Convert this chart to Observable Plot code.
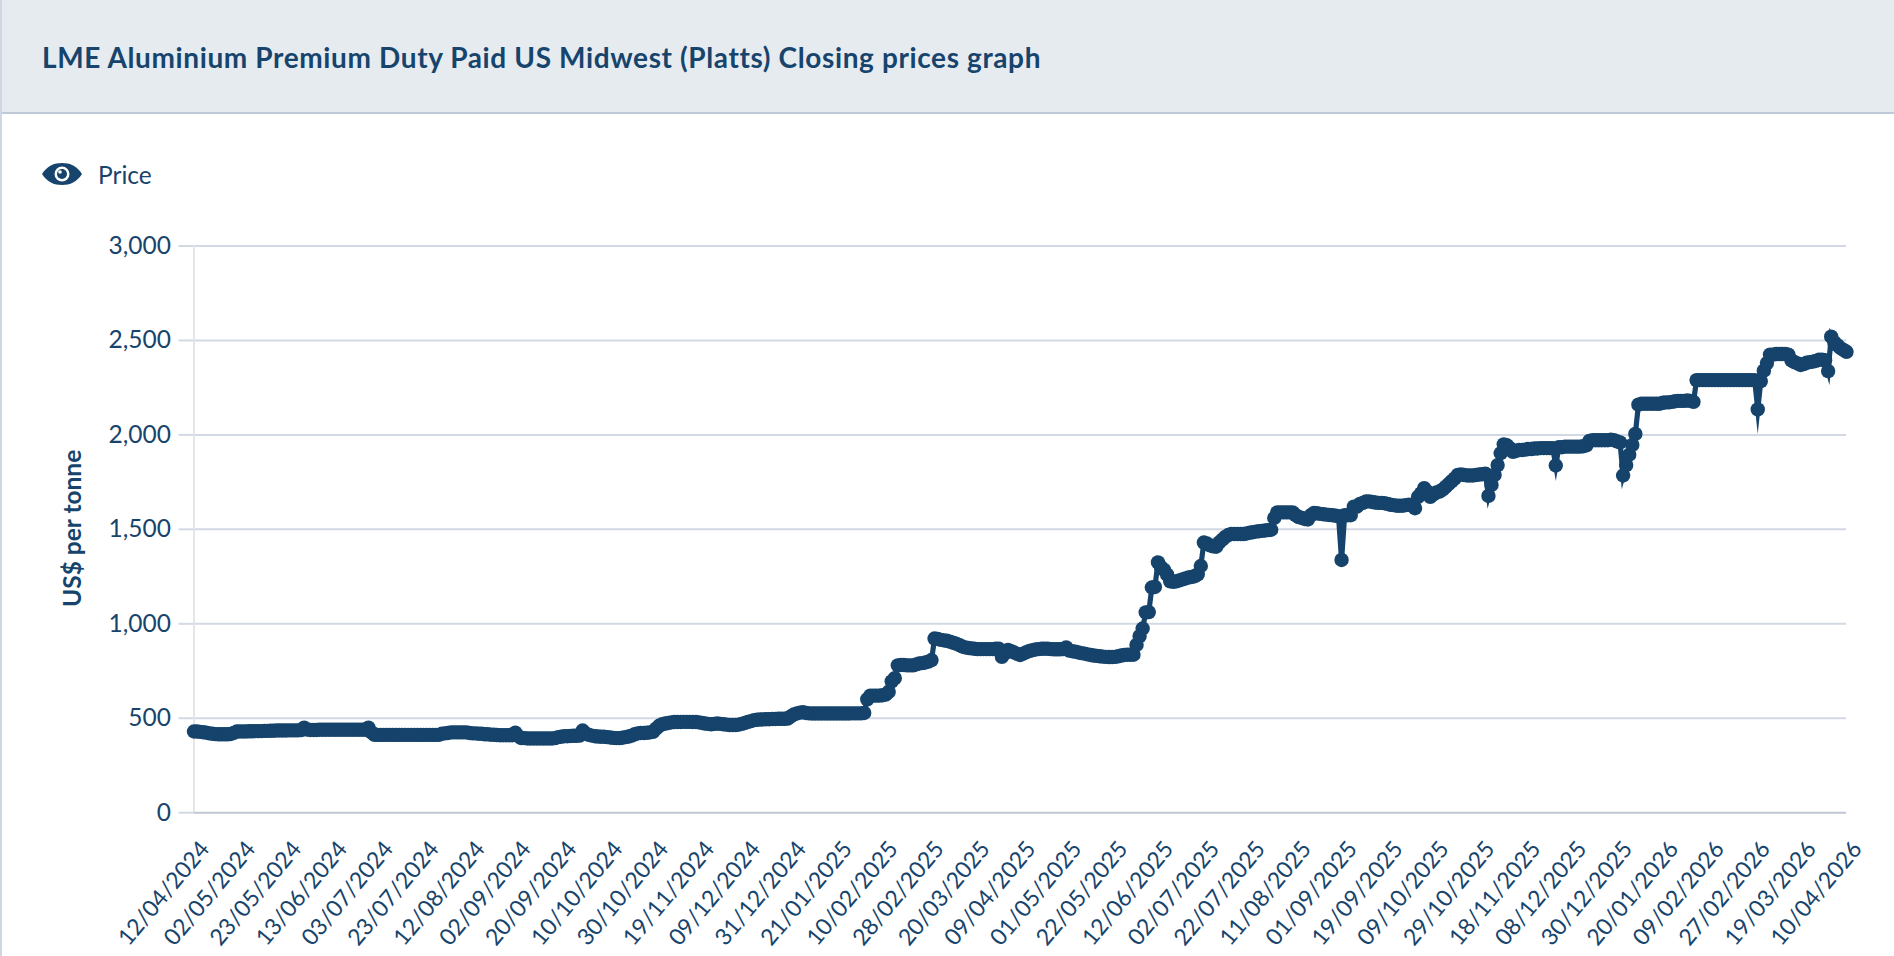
<!DOCTYPE html>
<html>
<head>
<meta charset="utf-8">
<script src="https://cdn.jsdelivr.net/npm/d3@7"></script>
<script src="https://cdn.jsdelivr.net/npm/@observablehq/plot@0.6"></script>
<style>
  html, body { margin: 0; padding: 0; background: #fff; overflow: hidden; }
  body { width: 1894px; height: 956px; position: relative; font-family: Lato, sans-serif; color: #17446c; }
  #edge { position: absolute; left: 0; top: 0; width: 2px; height: 956px; background: #cfd7e3; z-index: 2; }
  #head { height: 112px; background: #e6ebf0; border-bottom: 2px solid #bfcad8; box-sizing: content-box; }
  #head h1 { margin: 0; padding: 0 0 0 42px; font-size: 28px; letter-spacing: 0.62px; line-height: 114px; font-weight: 700; color: #17446c; }
  #legend { position: absolute; left: 42px; top: 160px; height: 28px; display: flex; align-items: center; font-size: 24.5px; }
  #legend svg { width: 40px; height: 24px; margin-right: 16px; }
  #chart { position: absolute; left: 0; top: 200px; }
  #chart svg { display: block; }
</style>
</head>
<body>
<div id="edge"></div>
<div id="head"><h1>LME Aluminium Premium Duty Paid US Midwest (Platts) Closing prices graph</h1></div>
<div id="legend">
  <svg viewBox="0 0 40 24"><path fill="#17446c" d="M0 12C5 4 12 1 20 1s15 3 20 11c-5 8-12 11-20 11S5 20 0 12z"/><circle cx="20" cy="12" r="7.5" fill="#fff"/><circle cx="20" cy="12" r="5" fill="#17446c"/><circle cx="18" cy="10" r="1.8" fill="#fff"/></svg>
  <span>Price</span>
</div>
<div id="chart"></div>
<script>
const tickLabels = ["12/04/2024","02/05/2024","23/05/2024","13/06/2024","03/07/2024","23/07/2024","12/08/2024","02/09/2024","20/09/2024","10/10/2024","30/10/2024","19/11/2024","09/12/2024","31/12/2024","21/01/2025","10/02/2025","28/02/2025","20/03/2025","09/04/2025","01/05/2025","22/05/2025","12/06/2025","02/07/2025","22/07/2025","11/08/2025","01/09/2025","19/09/2025","09/10/2025","29/10/2025","18/11/2025","08/12/2025","30/12/2025","20/01/2026","09/02/2026","27/02/2026","19/03/2026","10/04/2026"];
const yTicks = [0, 500, 1000, 1500, 2000, 2500, 3000];
const prices = [
430,430,428,426,424,420,418,416,415,415,415,415,417,422,430,
430,430,430,431,431,432,432,432,433,433,434,434,435,435,435,
435,436,436,436,436,437,450,440,438,438,438,439,439,439,439,
439,439,439,439,439,439,439,439,439,439,439,439,450,425,412,
412,412,412,412,412,412,412,412,412,412,412,412,412,412,412,
412,412,412,412,412,412,418,420,422,425,425,425,425,425,425,
422,420,420,418,418,415,415,413,413,411,410,410,410,410,410,
424,405,395,395,393,393,393,393,393,393,393,393,393,395,400,
402,405,405,406,407,407,408,435,420,412,408,405,403,402,402,
400,398,396,395,395,397,400,403,408,415,420,422,422,423,425,
428,445,460,468,472,475,478,480,480,480,481,481,481,480,480,
478,475,472,470,468,470,472,470,468,466,464,464,464,466,470,
475,480,485,490,492,493,494,495,495,496,496,497,497,497,498,
510,520,525,530,532,528,526,525,525,525,525,525,525,525,525,
525,525,525,525,525,526,526,526,526,528,600,620,620,620,620,
622,625,640,695,712,780,782,782,780,780,780,785,790,792,795,
800,808,922,920,915,912,910,905,900,895,888,880,875,872,870,
868,866,866,866,866,866,866,868,868,825,845,862,855,848,840,
835,842,850,856,860,864,866,868,868,868,866,865,865,865,866,
875,858,855,852,848,845,842,838,835,832,830,828,826,825,824,
824,825,828,832,835,836,836,836,888,935,975,1060,1062,1192,1195,
1325,1300,1285,1260,1225,1222,1225,1230,1235,1240,1245,1248,1252,1262,1306,
1430,1425,1415,1410,1408,1430,1445,1460,1470,1475,1475,1475,1475,1475,1478,
1482,1485,1488,1490,1492,1494,1496,1498,1560,1590,1590,1590,1590,1590,1590,
1575,1565,1560,1555,1552,1575,1587,1585,1582,1580,1578,1576,1575,1572,1570,
1338,1575,1575,1575,1620,1620,1635,1640,1648,1648,1645,1642,1640,1640,1638,
1635,1630,1628,1625,1625,1625,1628,1630,1625,1612,1672,1690,1718,1700,1672,
1685,1695,1700,1710,1725,1740,1755,1770,1788,1790,1788,1785,1785,1785,1788,
1790,1792,1795,1677,1735,1788,1840,1903,1950,1945,1930,1910,1915,1920,1920,
1922,1925,1925,1928,1928,1930,1930,1930,1930,1930,1838,1935,1935,1938,1938,
1938,1938,1938,1938,1940,1945,1968,1972,1972,1972,1972,1972,1972,1975,1972,
1965,1960,1785,1840,1895,1947,2005,2160,2165,2165,2165,2165,2165,2165,2165,
2170,2172,2172,2175,2178,2180,2180,2180,2182,2180,2175,2290,2290,2290,2290,
2290,2290,2290,2290,2290,2290,2290,2290,2290,2290,2290,2290,2290,2290,2290,
2290,2135,2285,2340,2380,2425,2425,2428,2428,2428,2428,2425,2395,2385,2378,
2370,2375,2382,2385,2388,2392,2398,2398,2395,2338,2520,2490,2475,2460,2450,
2440];
const rowsPerLabel = 15;
const rows = prices.map((price, row) => ({row, price}));
const ink = "#17446c";
const plot = Plot.plot({
  width: 1894, height: 756,
  marginLeft: 193.5, marginRight: 48, marginTop: 45.5, marginBottom: 143.8,
  style: {background: "transparent", fontFamily: "Lato, sans-serif", overflow: "visible"},
  x: {domain: [0, prices.length - 1], axis: null},
  y: {domain: [0, 3000], axis: null},
  marks: [
    Plot.ruleY(yTicks.filter(v => v > 0), {stroke: "#d3d9e4", strokeWidth: 2}),
    Plot.ruleX([0], {stroke: "#e4e6ea", strokeWidth: 2}),
    Plot.ruleY([0], {stroke: "#bfc7d3", strokeWidth: 2}),
    Plot.axisY({ticks: yTicks, tickFormat: d3.format(","), tickSize: 15, tickPadding: 8, fontSize: 24.5, stroke: "#d3d9e4", strokeWidth: 2, label: null, fill: ink}),
    Plot.axisX({ticks: tickLabels.map((_, i) => i * rowsPerLabel), tickFormat: r => tickLabels[r / rowsPerLabel], tickSize: 0, tickRotate: -50, tickPadding: 28, dx: 11, dy: 4, fontSize: 23, fill: ink, label: null}),
    Plot.text(["US$ per tonne"], {frameAnchor: "left", dx: -121, dy: -1, rotate: -90, textAnchor: "middle", text: d => d, fontSize: 24.5, fontWeight: 700, fill: ink}),
    Plot.line(rows, {x: "row", y: "price", stroke: "#15436b", strokeWidth: 5.2, strokeLinejoin: "miter", strokeMiterlimit: 10, strokeLinecap: "round"}),
    Plot.dot(rows, {x: "row", y: "price", r: 7.2, fill: "#15436b", stroke: "none"})
  ]
});
document.getElementById("chart").append(plot);
</script>
</body>
</html>
